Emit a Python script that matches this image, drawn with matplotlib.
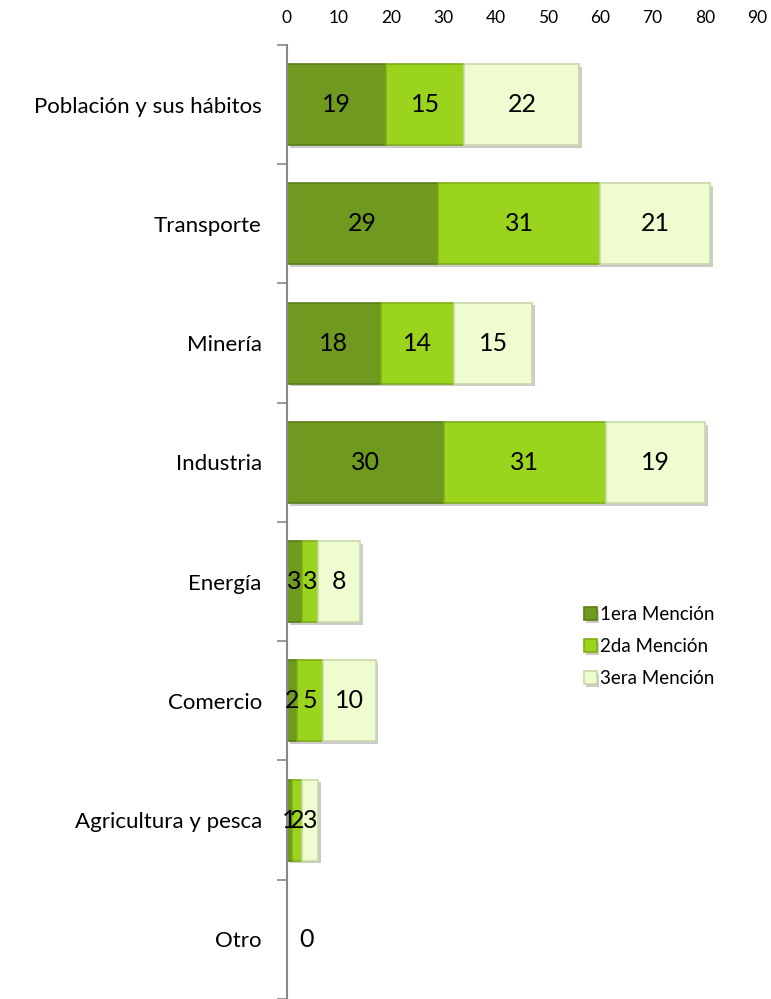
import matplotlib
matplotlib.use("Agg")
import matplotlib.pyplot as plt
import matplotlib.patheffects as pe
import numpy as np

CATEGORIES = ["Población y sus hábitos", "Transporte", "Minería", "Industria",
              "Energía", "Comercio", "Agricultura y pesca", "Otro"]
SERIES = ["1era Mención", "2da Mención", "3era Mención"]
FIRST = [19, 29, 18, 30, 3, 2, 1, 0]
SECOND = [15, 31, 14, 31, 3, 5, 2, 0]
THIRD = [22, 21, 15, 19, 8, 10, 3, 0]
XTICKS = [0, 10, 20, 30, 40, 50, 60, 70, 80, 90]

COLORS = ["#6f9a1f", "#9bd41c", "#eefccf"]
EDGES = ["#5a7d18", "#7fae16", "#c9d9a8"]

plt.rcParams["font.family"] = ["Lato", "DejaVu Sans"]

fig = plt.figure(figsize=(7.71, 9.99), dpi=100)
ax = fig.add_axes([0.372, 0.0, 0.61, 0.955])

y = np.arange(len(CATEGORIES))
left = np.zeros(len(CATEGORIES))
shadow = [pe.SimplePatchShadow(offset=(2, -2), shadow_rgbFace="0.6", alpha=0.5), pe.Normal()]
for vals, name, col, ec in zip([FIRST, SECOND, THIRD], SERIES, COLORS, EDGES):
    vals = np.array(vals, dtype=float)
    ax.barh(y, vals, left=left, height=0.68, color=col, edgecolor=ec,
            linewidth=1.2, label=name, path_effects=shadow)
    for yi, l, v in zip(y, left, vals):
        if v > 0:
            ax.text(l + v / 2, yi, f"{int(v)}", ha="center", va="center",
                    fontsize=18, color="black")
    left += vals

# rows without any mention still show a zero label
for yi, tot in zip(y, left):
    if tot == 0:
        ax.annotate("0", (0, yi), xytext=(14, 0), textcoords="offset points",
                    ha="center", va="center", fontsize=18)

ax.set_xlim(0, 90)
ax.set_ylim(len(CATEGORIES) - 0.5, -0.5)
ax.set_xticks(XTICKS)
ax.xaxis.tick_top()
ax.tick_params(axis="x", length=0, labelsize=12.5, pad=14)
ax.set_yticks(y)
ax.set_yticklabels(CATEGORIES, fontsize=16)
ax.set_yticks(np.arange(-0.5, len(CATEGORIES)), minor=True)
ax.tick_params(axis="y", which="major", length=0, pad=18)
ax.tick_params(axis="y", which="minor", length=7, color="#888888", width=1.2)

for s in ["top", "right", "bottom"]:
    ax.spines[s].set_visible(False)
ax.spines["left"].set_color("#888888")
ax.spines["left"].set_linewidth(1.5)

ax.legend(loc="upper left", bbox_to_anchor=(0.735, 0.41), bbox_transform=fig.transFigure,
          frameon=False, fontsize=13.5, handlelength=0.7, handleheight=0.7,
          handletextpad=0.2, labelspacing=0.8)

fig.savefig("out.png", dpi=100)
